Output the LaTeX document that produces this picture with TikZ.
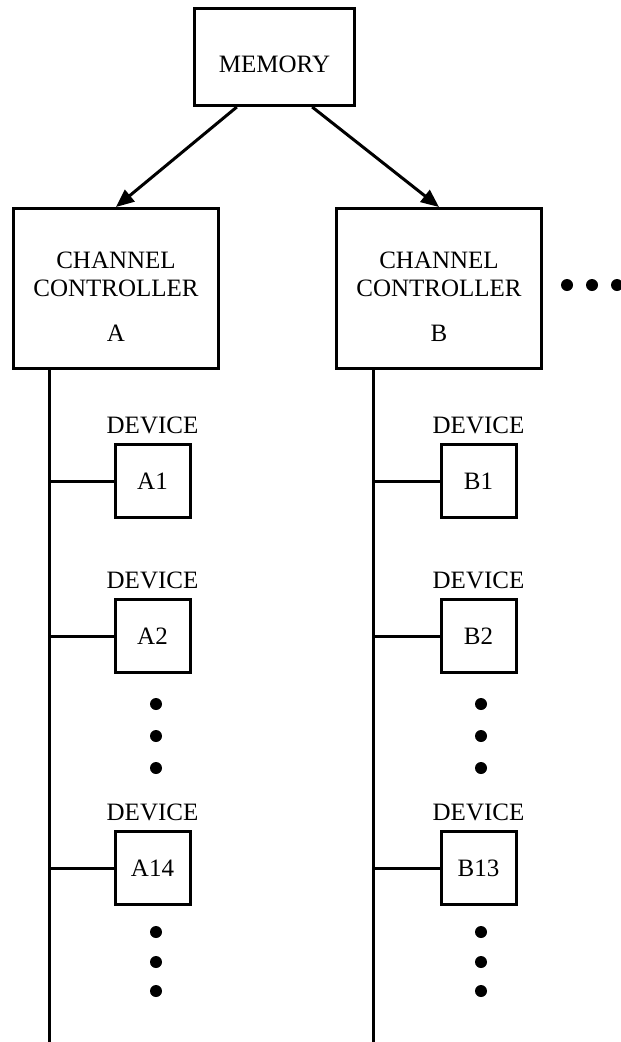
\documentclass[tikz,border=0pt]{standalone}
\usepackage{fontspec}
\setmainfont{Liberation Serif}
\usetikzlibrary{arrows.meta}

\begin{document}
\begin{tikzpicture}[x=1pt, y=-1pt, line width=3pt,
    boxtext/.style={font=\fontsize{25}{28}\selectfont},
    memorybox/.style={draw=lineColour, rectangle, inner sep=0pt, boxtext,
        minimum width=160pt, minimum height=97pt, text height=31pt},
    ctrlbox/.style={draw=lineColour, rectangle, inner sep=0pt,
        minimum width=205pt, minimum height=160pt},
    ctrltext/.style={boxtext, align=center, inner sep=0pt, yshift=-8pt},
    devicebox/.style={draw=lineColour, rectangle, inner sep=0pt, boxtext,
        minimum width=75pt, minimum height=73pt, label distance=0pt},
    devlabel/.style={boxtext, inner sep=0pt, yshift=8pt},
    feed/.style={draw=lineColour, -{Triangle[length=18pt,width=15pt]}},
    bus/.style={draw=lineColour},
    dotsize/.style={fill=lineColour}]
    % Define colours
    \definecolor{lineColour}{HTML}{000000}

    % Fix picture size
    \useasboundingbox (0,0) rectangle (621,1042);

    % Draw memory and channel controllers
    \node[memorybox] (memory) at (274.5,57) {MEMORY};
    \node[ctrlbox, label={[ctrltext]center:{CHANNEL\\CONTROLLER\\[17pt]A}}] (ctrlA) at (116,288.5) {};
    \node[ctrlbox, label={[ctrltext]center:{CHANNEL\\CONTROLLER\\[17pt]B}}] (ctrlB) at (439,288.5) {};

    % Arrows from memory
    \draw[feed] (memory.233) -- (ctrlA.north);
    \draw[feed] (memory.307) -- (ctrlB.north);

    % More controllers
    \foreach \x in {567,592,617}
        \fill[dotsize] (\x,285) circle (6);

    % Draw buses
    \coordinate (busAtop) at (49,369);
    \coordinate (busAend) at (49,1042);
    \coordinate (busBtop) at (373,369);
    \coordinate (busBend) at (373,1042);
    \draw[bus] (busAtop) -- (busAend);
    \draw[bus] (busBtop) -- (busBend);

    % Draw devices and their links to the bus
    \foreach \col/\num/\x/\y in {A/1/152.5/481, A/2/152.5/636, A/14/152.5/868,
                                 B/1/478.5/481, B/2/478.5/636, B/13/478.5/868} {
        \node[devicebox, label={[devlabel]above:DEVICE}] (dev\col\num) at (\x,\y) {\col\num};
        \draw[bus] (dev\col\num.west -| bus\col top) -- (dev\col\num.west);
    }

    % Dots for the devices left out
    \foreach \x in {156,481}
        \foreach \y in {704,736,768,932,962,991}
            \fill[dotsize] (\x,\y) circle (6);

\end{tikzpicture}
\end{document}
